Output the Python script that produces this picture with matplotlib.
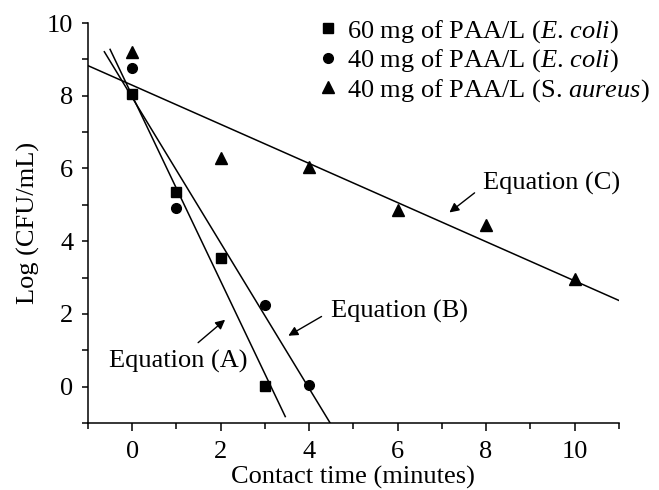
import matplotlib
matplotlib.use("Agg")
import matplotlib.pyplot as plt
from matplotlib.ticker import MultipleLocator
import numpy as np

# --- data ---
t_60_ecoli = [0, 1, 2, 3]
log_60_ecoli = [8.05, 5.35, 3.55, 0.02]

t_40_ecoli = [0, 1, 3, 4]
log_40_ecoli = [8.75, 4.9, 2.25, 0.05]

t_40_saureus = [0, 2, 4, 6, 8, 10]
log_40_saureus = [9.2, 6.3, 6.05, 4.85, 4.45, 2.95]

# fitted lines: (intercept, slope, x start, x end)
eq_a = [8.0, -2.55, -0.5, 3.46]
eq_b = [7.95, -2.0, -0.63, 4.47]
eq_c = [8.29, -0.538, -1.0, 11.0]

plt.rcParams.update({
    'font.family': 'Liberation Serif', 'font.size': 19,
    'mathtext.fontset': 'custom', 'mathtext.rm': 'Liberation Serif',
    'mathtext.it': 'Liberation Serif:italic',
})

fig = plt.figure(figsize=(6.59, 4.90), dpi=100)
ax = fig.add_axes([0.1335, 0.1367, 0.8055, 0.8163])

for b0, b1, x0, x1 in (eq_a, eq_b, eq_c):
    xs = np.array([x0, x1])
    ax.plot(xs, b0 + b1 * xs, color='black', linewidth=1.1)

ax.plot(t_60_ecoli, log_60_ecoli, 's', color='black', markersize=6.5,
        label=r'60 mg of PAA/L ($E$. $coli$)')
ax.plot(t_40_ecoli, log_40_ecoli, 'o', color='black', markersize=7,
        label=r'40 mg of PAA/L ($E$. $coli$)')
ax.plot(t_40_saureus, log_40_saureus, '^', color='black', markersize=8,
        label=r'40 mg of PAA/L (S. $aureus$)')

# annotations
arrow = dict(arrowstyle='-|>', color='black', linewidth=1.0, mutation_scale=14,
             shrinkA=0, shrinkB=0)
ax.annotate('', xy=(7.17, 4.79), xytext=(7.74, 5.33), arrowprops=arrow)
ax.text(7.92, 5.6, 'Equation (C)', va='center', ha='left')
ax.annotate('', xy=(3.53, 1.40), xytext=(4.28, 1.93), arrowprops=arrow)
ax.text(4.5, 2.06, 'Equation (B)', va='center', ha='left')
ax.annotate('', xy=(2.10, 1.84), xytext=(1.49, 1.21), arrowprops=arrow)
ax.text(-0.52, 0.69, 'Equation (A)', va='center', ha='left')

ax.set_xlim(-1, 11)
ax.set_ylim(-1, 10)
ax.xaxis.set_major_locator(MultipleLocator(2))
ax.xaxis.set_minor_locator(MultipleLocator(1))
ax.yaxis.set_major_locator(MultipleLocator(2))
ax.yaxis.set_minor_locator(MultipleLocator(1))
ax.tick_params(axis='x', which='major', direction='out', length=5.8, width=1.1, pad=7)
ax.tick_params(axis='x', which='minor', direction='out', length=4.3, width=1.1)
ax.tick_params(axis='y', which='major', direction='out', length=4.5, width=1.1, pad=6)
ax.tick_params(axis='y', which='minor', direction='out', length=4.3, width=1.1)
ax.spines['top'].set_visible(False)
ax.spines['right'].set_visible(False)
for s in ('left', 'bottom'):
    ax.spines[s].set_linewidth(1.1)

ax.set_xlabel('Contact time (minutes)', labelpad=2)
ax.set_ylabel('Log (CFU/mL)', labelpad=5)

ax.legend(loc='upper left', bbox_to_anchor=(0.478, 0.9633),
          bbox_transform=fig.transFigure, frameon=False,
          fontsize=19, handletextpad=0.2, handlelength=1.0, labelspacing=0.1,
          borderaxespad=0.0, borderpad=0.0)

fig.savefig('out.png', dpi=100)
